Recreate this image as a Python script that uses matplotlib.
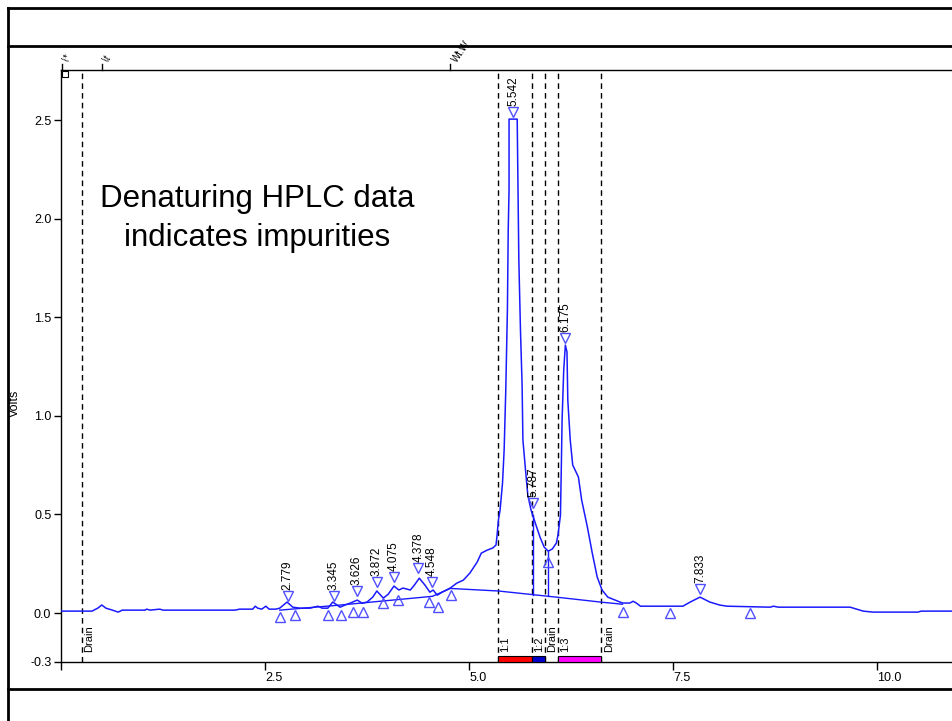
import matplotlib
matplotlib.use("Agg")
import matplotlib.pyplot as plt
from matplotlib.lines import Line2D

plt.rcParams['font.family'] = ['Liberation Sans', 'DejaVu Sans']

# detector trace (minutes, volts)
time_min = [0.00, 0.38, 0.45, 0.50, 0.55, 0.63, 0.70, 0.75, 1.03, 1.05, 1.09, 1.21, 1.25,
            2.13, 2.19, 2.35, 2.38, 2.41, 2.46, 2.51, 2.55, 2.63, 2.68, 2.77, 2.84, 2.93,
            3.05, 3.15, 3.20, 3.27, 3.33, 3.42, 3.48, 3.54, 3.63, 3.69, 3.75, 3.82, 3.87,
            3.95, 4.01, 4.08, 4.14, 4.19, 4.28, 4.33, 4.39, 4.46, 4.52, 4.56, 4.61, 4.67,
            4.77, 4.85, 4.93, 5.01, 5.10, 5.15, 5.22, 5.29, 5.33, 5.34, 5.36, 5.38, 5.41,
            5.43, 5.45, 5.47, 5.48, 5.49, 5.49, 5.59, 5.60, 5.61, 5.63, 5.65, 5.66, 5.69,
            5.72, 5.76, 5.78, 5.82, 5.87, 5.92, 5.97, 6.02, 6.07, 6.09, 6.12, 6.13, 6.14,
            6.16, 6.18, 6.20, 6.21, 6.24, 6.27, 6.34, 6.38, 6.45, 6.51, 6.57, 6.63, 6.70,
            6.79, 6.88, 6.97, 7.01, 7.05, 7.10, 7.62, 7.71, 7.83, 7.95, 8.07, 8.16, 8.69,
            8.73, 8.79, 9.67, 9.83, 9.95, 10.50, 10.54, 10.95]
volts = [0.010, 0.010, 0.025, 0.041, 0.025, 0.015, 0.005, 0.015, 0.015, 0.020, 0.015, 0.020, 0.015,
         0.015, 0.020, 0.020, 0.035, 0.025, 0.020, 0.035, 0.020, 0.020, 0.025, 0.056, 0.030, 0.025,
         0.025, 0.035, 0.025, 0.025, 0.056, 0.030, 0.041, 0.050, 0.066, 0.050, 0.056, 0.081, 0.112,
         0.076, 0.096, 0.137, 0.117, 0.127, 0.117, 0.142, 0.177, 0.142, 0.106, 0.117, 0.091, 0.106,
         0.127, 0.152, 0.167, 0.203, 0.259, 0.304, 0.319, 0.330, 0.345, 0.380, 0.472, 0.522, 0.659,
         0.827, 1.131, 1.537, 1.942, 2.145, 2.505, 2.505, 2.145, 1.790, 1.435, 1.156, 0.877, 0.735,
         0.598, 0.522, 0.497, 0.446, 0.385, 0.335, 0.314, 0.325, 0.355, 0.396, 0.497, 0.725, 0.979,
         1.232, 1.359, 1.324, 1.080, 0.877, 0.751, 0.690, 0.573, 0.436, 0.304, 0.183, 0.117, 0.081,
         0.066, 0.051, 0.051, 0.060, 0.051, 0.035, 0.035, 0.056, 0.081, 0.056, 0.041, 0.035, 0.030,
         0.035, 0.030, 0.030, 0.010, 0.005, 0.005, 0.010, 0.010]

# integration baseline
base_t = [2.68, 3.40, 4.55, 4.77, 5.36, 6.09, 6.63, 6.88]
base_v = [0.015, 0.040, 0.085, 0.125, 0.112, 0.080, 0.055, 0.045]

# drop lines at peak splits (time, top, bottom)
drops = [(5.78, 0.497, 0.092), (5.97, 0.314, 0.086)]

# labelled peaks: retention time and marker height
peak_t = [2.779, 3.345, 3.626, 3.872, 4.075, 4.378, 4.548, 5.542, 5.787, 6.175, 7.833]
peak_mark = [0.086, 0.086, 0.112, 0.157, 0.183, 0.228, 0.157, 2.54, 0.558, 1.395, 0.122]

# peak start/end markers
edge_t = [2.68, 2.87, 3.27, 3.43, 3.58, 3.70, 3.95, 4.13, 4.51, 4.62, 4.78, 5.97, 6.89, 7.46, 8.44]
edge_v = [-0.020, -0.010, -0.010, -0.010, 0.005, 0.005, 0.051, 0.066, 0.056, 0.030, 0.091,
          0.259, 0.005, 0.000, 0.000]

# fraction collector events
event_t = [0.257, 5.355, 5.77, 5.93, 6.09, 6.62]
event_lbl = ['Drain', '1:1', '1:2', 'Drain', '1:3', 'Drain']
frac_start = [5.355, 5.77, 6.09]
frac_end = [5.77, 5.93, 6.62]
frac_color = ['#ff0000', '#0000cc', '#ff00ff']

# run events on the top strip
top_t = [0.01, 0.50, 4.77]
top_lbl = ['\\*', '\\t', 'Wt.W']

fig = plt.figure(figsize=(9.53, 7.21), dpi=100)
ax = fig.add_axes([61 / 953, 1 - 662 / 721, 1 - 61 / 953, (662 - 70) / 721])

ymin, ymax = -0.248, 2.754
ax.set_xlim(0, 10.93)
ax.set_ylim(ymin, ymax)

blue = '#1a1aff'
ax.plot(time_min, volts, color=blue, lw=1.1, zorder=3)
ax.plot(base_t, base_v, color=blue, lw=1.0, zorder=3)
for t, top, bot in drops:
    ax.plot([t, t], [bot, top], color=blue, lw=1.0, zorder=3)

ax.plot(peak_t, peak_mark, 'v', ms=7, mfc='none', mec='#4f4fff', mew=1, zorder=4)
ax.plot(edge_t, edge_v, '^', ms=7, mfc='none', mec='#4f4fff', mew=1, zorder=4)
for t, m in zip(peak_t, peak_mark):
    ax.text(t, m + 0.03, f'{t:.3f}', rotation=90, ha='center', va='bottom',
            fontsize=8.5, zorder=5)

for t, lbl in zip(event_t, event_lbl):
    ax.axvline(t, color='black', lw=1, ls=(0, (4, 3)), zorder=2)
    ax.text(t + 0.03, ymin + 0.05, lbl, rotation=90, ha='left', va='bottom',
            fontsize=8)

for s, e, c in zip(frac_start, frac_end, frac_color):
    ax.broken_barh([(s, e - s)], (ymin, 0.03), facecolors=c, edgecolors='black',
                   lw=0.8, zorder=4)

tr = ax.get_xaxis_transform()
for t, lbl in zip(top_t, top_lbl):
    ax.plot([t, t], [1.0, 1.01], color='black', lw=1, transform=tr, clip_on=False)
    ax.text(t, 1.01, lbl, rotation=55, fontsize=7, ha='left', va='bottom',
            transform=tr, clip_on=False)
ax.plot([0.05], [2.735], 's', ms=4, mfc='none', mec='black', mew=0.8)

ax.text(2.4, 2.0, 'Denaturing HPLC data\nindicates impurities', ha='center', va='center',
        fontsize=22.5, linespacing=1.4)

ax.spines['right'].set_visible(False)
for s in ['left', 'bottom', 'top']:
    ax.spines[s].set_linewidth(1)

ax.set_yticks([ymin, 0.0, 0.5, 1.0, 1.5, 2.0, 2.5])
ax.set_yticklabels(['-0.3', '0.0', '0.5', '1.0', '1.5', '2.0', '2.5'], fontsize=9)
ax.set_xticks([0, 2.5, 5.0, 7.5, 10.0])
ax.set_xticklabels(['', '2.5', '5.0', '7.5', '10.0'], fontsize=9, ha='left')
ax.tick_params(axis='y', length=5, width=1, pad=2)
ax.tick_params(axis='x', length=6, width=1, pad=1)

fig.text(15 / 953, 1 - 403 / 721, 'Volts', rotation=90, ha='center', va='center', fontsize=9)

# outer frame of the report page
for y in [8, 46, 689]:
    fig.add_artist(Line2D([8 / 953, 1], [1 - y / 721] * 2, color='black', lw=2))
fig.add_artist(Line2D([8 / 953] * 2, [0, 1 - 8 / 721], color='black', lw=2))

fig.savefig('out.png', dpi=100)
